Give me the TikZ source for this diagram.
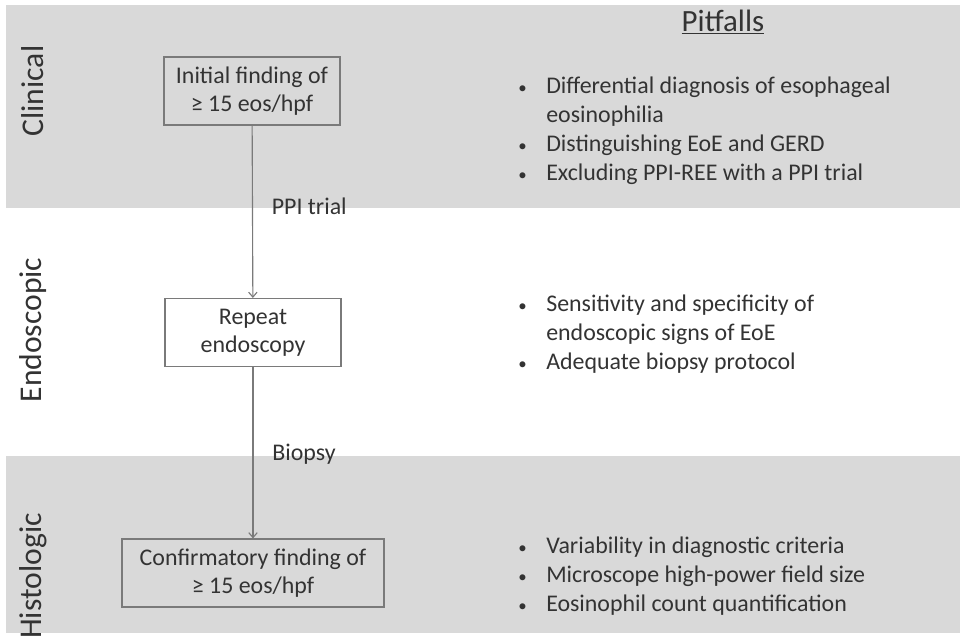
\documentclass[tikz,border=0pt]{standalone}
\usepackage{fontspec}
\setmainfont{Carlito}
\usetikzlibrary{positioning, arrows.meta}
\definecolor{bandgray}{HTML}{D9D9D9}
\definecolor{inkgray}{HTML}{333333}
\definecolor{linegray}{HTML}{7A7A7A}
\newcommand{\pbul}{{\fontsize{12}{12}\selectfont\textbullet}}

\begin{document}
\begin{tikzpicture}[
        x=0.025cm, y=-0.025cm,
        every node/.style={text=inkgray},
        box/.style={draw=linegray, line width=0.8pt, minimum height=1.7cm,
            align=center, font=\fontsize{17}{20}\selectfont},
        ar/.style={-{Straight Barb[length=3.5pt, width=6pt]}, draw=linegray, line width=0.8pt},
        stage/.style={rotate=90, font=\fontsize{22.5}{26}\selectfont},
        lbl/.style={font=\fontsize{17}{20}\selectfont, right, xshift=10pt},
        pit/.style={anchor=west, inner sep=0pt, align=left,
            font=\fontsize{17}{20.6}\selectfont},
    ]

    \useasboundingbox (0,0) rectangle (960,637);
    \fill[bandgray] (6,5) rectangle (960,208);
    \fill[bandgray] (6,456) rectangle (960,633);

    \node[stage](clin) at (33,91) {Clinical};
    \node[stage](endo) at (33,330) {Endoscopic};
    \node[stage](hist) at (33,576) {Histologic};

    \node[box, minimum width=4.4cm](init) at (252,91) {Initial finding of\\≥ 15 eos/hpf};
    \node[box, minimum width=4.4cm](rep) at (253,332.5) {Repeat\\endoscopy};
    \node[box, minimum width=6.55cm](conf) at (253,573) {Confirmatory finding of\\≥ 15 eos/hpf};

    \draw[ar] (init) -- node[lbl, pos=0.47]{PPI trial} (rep);
    \draw[ar] (rep) -- node[lbl, pos=0.51]{Biopsy} (conf);

    \node[font=\fontsize{22}{26}\selectfont](head) at (723,22) {\underline{Pitfalls}};

    \node[pit](pclin) at (518,131.5) {\begin{tabular}{@{}p{0.7cm}@{}l@{}}
        \pbul & Differential diagnosis of esophageal\\
        & eosinophilia\\
        \pbul & Distinguishing EoE and GERD\\
        \pbul & Excluding PPI-REE with a PPI trial
    \end{tabular}};
    \node[pit](pendo) at (518,335) {\begin{tabular}{@{}p{0.7cm}@{}l@{}}
        \pbul & Sensitivity and specificity of\\
        & endoscopic signs of EoE\\
        \pbul & Adequate biopsy protocol
    \end{tabular}};
    \node[pit](phist) at (518,577) {\begin{tabular}{@{}p{0.7cm}@{}l@{}}
        \pbul & Variability in diagnostic criteria\\
        \pbul & Microscope high-power field size\\
        \pbul & Eosinophil count quantification
    \end{tabular}};
\end{tikzpicture}
\end{document}
